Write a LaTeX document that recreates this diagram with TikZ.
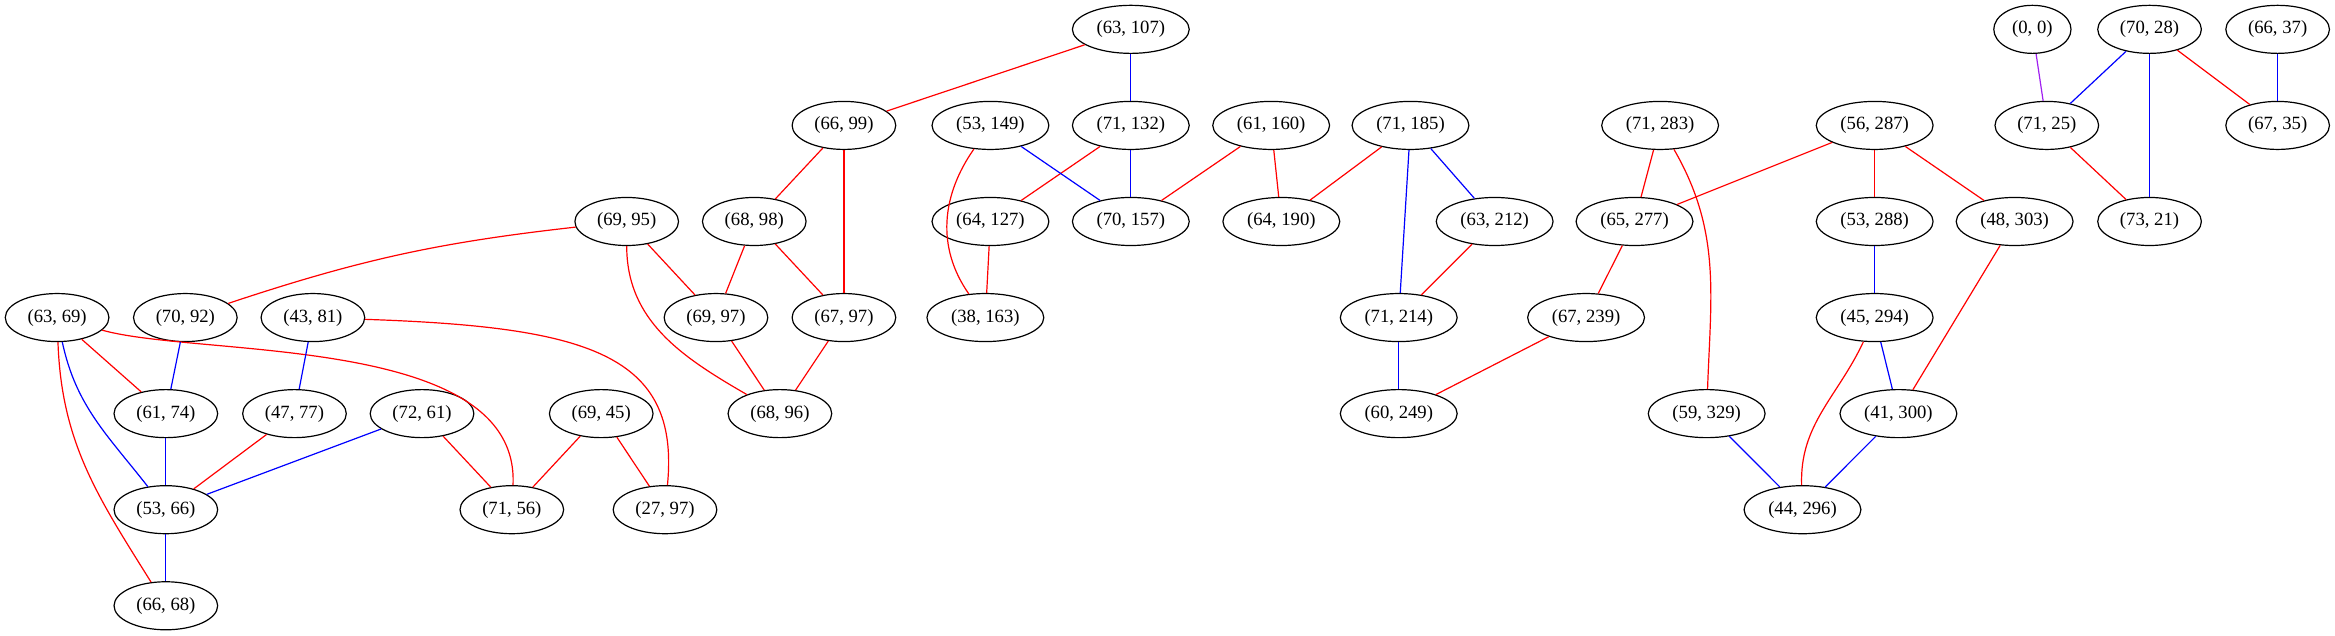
\documentclass[tikz,border=0pt]{standalone}
\usepackage{fontspec}
\setmainfont{Liberation Serif}
\usepackage{xcolor}
\usepackage{tikz}
\usetikzlibrary{shapes.geometric}
\definecolor{gvpurple}{HTML}{A020F0}

\begin{document}
\begin{tikzpicture}[x=1pt,y=1pt,
    pair/.style={draw,ellipse,line width=0.9pt,minimum height=36pt,inner xsep=5.3pt,inner ysep=2pt,font=\fontsize{14}{16}\selectfont},
    redge/.style={draw=red,line width=0.9pt},
    bedge/.style={draw=blue,line width=0.9pt},
    pedge/.style={draw=gvpurple,line width=0.9pt}]
    \useasboundingbox (0,0) rectangle (1750,-476);

    % Row 1
    \node[pair] (n63107) at (847.5,-22) {(63, 107)};
    \node[pair] (n00) at (1523.2,-22) {(0, 0)};
    \node[pair] (n7028) at (1611,-22) {(70, 28)};
    \node[pair] (n6637) at (1707,-22) {(66, 37)};

    % Row 2
    \node[pair] (n6699) at (632.5,-94) {(66, 99)};
    \node[pair] (n53149) at (742.3,-94) {(53, 149)};
    \node[pair] (n71132) at (847.5,-94) {(71, 132)};
    \node[pair] (n61160) at (952.7,-94) {(61, 160)};
    \node[pair] (n71185) at (1057.1,-94) {(71, 185)};
    \node[pair] (n71283) at (1244.2,-94) {(71, 283)};
    \node[pair] (n56287) at (1405,-94) {(56, 287)};
    \node[pair] (n7125) at (1534,-94) {(71, 25)};
    \node[pair] (n6735) at (1707,-94) {(67, 35)};

    % Row 3
    \node[pair] (n6995) at (469.7,-166) {(69, 95)};
    \node[pair] (n6898) at (565.3,-166) {(68, 98)};
    \node[pair] (n64127) at (742.3,-166) {(64, 127)};
    \node[pair] (n70157) at (847.5,-166) {(70, 157)};
    \node[pair] (n64190) at (960.3,-166) {(64, 190)};
    \node[pair] (n63212) at (1120.2,-166) {(63, 212)};
    \node[pair] (n65277) at (1225,-166) {(65, 277)};
    \node[pair] (n53288) at (1405,-166) {(53, 288)};
    \node[pair] (n48303) at (1509.9,-166) {(48, 303)};
    \node[pair] (n7321) at (1611,-166) {(73, 21)};

    % Row 4
    \node[pair] (n6369) at (42.8,-238) {(63, 69)};
    \node[pair] (n7092) at (138.9,-238) {(70, 92)};
    \node[pair] (n4381) at (234.5,-238) {(43, 81)};
    \node[pair] (n6997) at (536.6,-238) {(69, 97)};
    \node[pair] (n6797) at (632.5,-238) {(67, 97)};
    \node[pair] (n38163) at (738.5,-238) {(38, 163)};
    \node[pair] (n71214) at (1048.3,-238) {(71, 214)};
    \node[pair] (n67239) at (1188.7,-238) {(67, 239)};
    \node[pair] (n45294) at (1405,-238) {(45, 294)};

    % Row 5
    \node[pair] (n6174) at (124.3,-310) {(61, 74)};
    \node[pair] (n4777) at (220.7,-310) {(47, 77)};
    \node[pair] (n7261) at (316.3,-310) {(72, 61)};
    \node[pair] (n6945) at (450.6,-310) {(69, 45)};
    \node[pair] (n6896) at (584.5,-310) {(68, 96)};
    \node[pair] (n60249) at (1048.3,-310) {(60, 249)};
    \node[pair] (n59329) at (1279.1,-310) {(59, 329)};
    \node[pair] (n41300) at (1422.8,-310) {(41, 300)};

    % Row 6 and 7
    \node[pair] (n5366) at (124.3,-382) {(53, 66)};
    \node[pair] (n7156) at (383.6,-382) {(71, 56)};
    \node[pair] (n2797) at (498.4,-382) {(27, 97)};
    \node[pair] (n44296) at (1350.9,-382) {(44, 296)};
    \node[pair] (n6668) at (124.3,-454) {(66, 68)};

    % Left part
    \draw[redge] (n6369) -- (n6174);
    \draw[bedge] (n6369) to[out=-78,in=128] (n5366);
    \draw[redge] (n6369) to[out=-88,in=122] (n6668);
    \draw[redge] (n6369) .. controls (150,-268) and (390,-250) .. (n7156);
    \draw[redge] (n6995) to[bend right=6] (n7092);
    \draw[bedge] (n7092) -- (n6174);
    \draw[bedge] (n4381) -- (n4777);
    \draw[redge] (n4381) .. controls (440,-245) and (510,-265) .. (n2797);
    \draw[bedge] (n6174) -- (n5366);
    \draw[redge] (n4777) -- (n5366);
    \draw[bedge] (n7261) -- (n5366);
    \draw[redge] (n7261) -- (n7156);
    \draw[redge] (n6945) -- (n7156);
    \draw[redge] (n6945) -- (n2797);
    \draw[bedge] (n5366) -- (n6668);
    \draw[redge] (n6995) -- (n6997);
    \draw[redge] (n6995) to[out=-90,in=150] (n6896);
    \draw[redge] (n6898) -- (n6997);
    \draw[redge] (n6898) -- (n6797);
    \draw[redge] (n6997) -- (n6896);
    \draw[redge] (n6797) -- (n6896);
    \draw[redge] (n6699) -- (n6898);
    \draw[redge] (n6699) -- (n6797);

    % Middle part
    \draw[redge] (n63107) -- (n6699);
    \draw[bedge] (n63107) -- (n71132);
    \draw[redge] (n71132) -- (n64127);
    \draw[bedge] (n71132) -- (n70157);
    \draw[bedge] (n53149) -- (n70157);
    \draw[redge] (n53149) to[out=-125,in=125] (n38163);
    \draw[redge] (n64127) -- (n38163);
    \draw[redge] (n61160) -- (n70157);
    \draw[redge] (n61160) -- (n64190);
    \draw[redge] (n71185) -- (n64190);
    \draw[bedge] (n71185) -- (n71214);
    \draw[bedge] (n71185) -- (n63212);
    \draw[redge] (n63212) -- (n71214);
    \draw[bedge] (n71214) -- (n60249);
    \draw[redge] (n67239) -- (n60249);

    % Right part
    \draw[redge] (n71283) -- (n65277);
    \draw[redge] (n71283) to[out=-60,in=88] (n59329);
    \draw[redge] (n56287) -- (n65277);
    \draw[redge] (n56287) -- (n53288);
    \draw[redge] (n56287) -- (n48303);
    \draw[redge] (n65277) -- (n67239);
    \draw[bedge] (n53288) -- (n45294);
    \draw[bedge] (n45294) -- (n41300);
    \draw[redge] (n45294) to[out=-115,in=92] (n44296);
    \draw[redge] (n48303) -- (n41300);
    \draw[bedge] (n59329) -- (n44296);
    \draw[bedge] (n41300) -- (n44296);
    \draw[pedge] (n00) -- (n7125);
    \draw[bedge] (n7028) -- (n7125);
    \draw[bedge] (n7028) -- (n7321);
    \draw[redge] (n7028) -- (n6735);
    \draw[bedge] (n6637) -- (n6735);
    \draw[redge] (n7125) -- (n7321);
\end{tikzpicture}
\end{document}
